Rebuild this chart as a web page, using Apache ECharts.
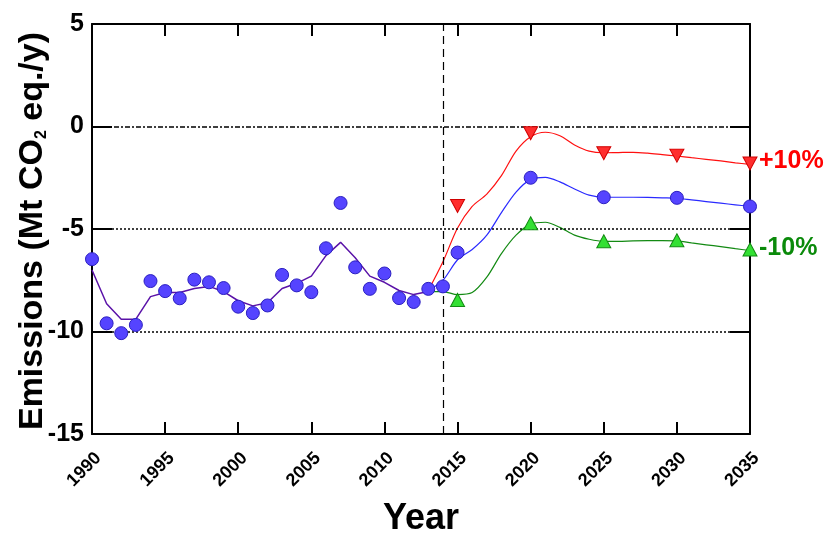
<!DOCTYPE html>
<html>
<head>
<meta charset="utf-8">
<script src="https://cdn.jsdelivr.net/npm/echarts@6/dist/echarts.min.js"></script>
<style>
html,body{margin:0;padding:0;background:#fff;}
#chart{width:825px;height:533px;}
</style>
</head>
<body>
<div id="chart"></div>
<script>
// ---- data ----
var histYears = [1990,1991,1992,1993,1994,1995,1996,1997,1998,1999,2000,2001,2002,2003,2004,2005,2006,2007,2008,2009,2010,2011,2012,2013];
var histLine = [-7.0,-8.65,-9.4,-9.4,-8.3,-8.1,-8.1,-7.9,-7.8,-8.05,-8.5,-8.75,-8.6,-7.9,-7.65,-7.3,-6.3,-5.65,-6.4,-7.3,-7.6,-8.0,-8.2,-8.05];

var projYears = [2013,2014,2015,2016,2017,2018,2019,2020,2021,2022,2023,2024,2025,2026,2027,2028,2029,2030,2031,2032,2033,2034,2035];
var projHigh = [-8.0,-6.6,-4.95,-3.9,-3.3,-2.4,-1.2,-0.5,-0.28,-0.45,-0.9,-1.2,-1.28,-1.27,-1.26,-1.3,-1.37,-1.44,-1.52,-1.6,-1.68,-1.77,-1.85];
var projMid = [-8.0,-7.5,-6.5,-6.0,-5.3,-4.2,-3.2,-2.58,-2.48,-2.7,-3.05,-3.35,-3.45,-3.45,-3.45,-3.46,-3.48,-3.5,-3.58,-3.66,-3.74,-3.82,-3.9];
var projLow = [-8.05,-8.05,-8.2,-8.1,-7.35,-6.2,-5.3,-4.76,-4.67,-4.92,-5.3,-5.5,-5.6,-5.6,-5.58,-5.57,-5.57,-5.58,-5.68,-5.77,-5.86,-5.96,-6.05];

var obsYears = [1990,1991,1992,1993,1994,1995,1996,1997,1998,1999,2000,2001,2002,2003,2004,2005,2006,2007,2008,2009,2010,2011,2012,2013,2014,2015,2020,2025,2030,2035];
var obsValues = [-6.47,-9.6,-10.08,-9.68,-7.54,-8.03,-8.38,-7.47,-7.6,-7.88,-8.79,-9.1,-8.73,-7.24,-7.75,-8.08,-5.94,-3.73,-6.87,-7.92,-7.17,-8.37,-8.56,-7.92,-7.8,-6.15,-2.5,-3.45,-3.48,-3.9];

var scenYears = [2015,2020,2025,2030,2035];
var highMarks = [-3.88,-0.33,-1.3,-1.42,-1.8];
var lowMarks = [-8.46,-4.72,-5.6,-5.55,-6.0];

var xTicks = {min:1990, max:2035, step:5};
var yTicks = {min:-15, max:5, step:5};
var cutYear = 2014;

function pairs(xs, ys){ return xs.map(function(x,i){ return [x, ys[i]]; }); }

var FONT = '"Liberation Sans", Arial, Helvetica, sans-serif';

var chart = echarts.init(document.getElementById('chart'), null, {renderer:'canvas'});

var axisLineStyle = {color:'#000', width:2};
var tickStyle = {color:'#000', width:2};

var option = {
  backgroundColor:'#fff',
  animation:false,
  grid:{left:92, top:24, width:658, height:410, containLabel:false},
  xAxis:[
    {type:'value', position:'bottom', min:xTicks.min, max:xTicks.max, interval:xTicks.step,
     axisLine:{show:true, onZero:false, lineStyle:axisLineStyle},
     axisTick:{show:true, inside:true, length:12, lineStyle:tickStyle},
     axisLabel:{show:true, rotate:45, margin:15, verticalAlign:'top', fontFamily:FONT, fontWeight:'bold', fontSize:18, color:'#000',
       formatter:function(v){return String(v);}},
     splitLine:{show:false}},
    {type:'value', position:'top', min:xTicks.min, max:xTicks.max, interval:xTicks.step,
     axisLine:{show:true, onZero:false, lineStyle:axisLineStyle},
     axisTick:{show:true, inside:true, length:12, lineStyle:tickStyle},
     axisLabel:{show:false}, splitLine:{show:false}}
  ],
  yAxis:[
    {type:'value', position:'left', min:yTicks.min, max:yTicks.max, interval:yTicks.step,
     axisLine:{show:true, onZero:false, lineStyle:axisLineStyle},
     axisTick:{show:true, inside:true, length:20, lineStyle:tickStyle},
     axisLabel:{show:true, margin:8, fontFamily:FONT, fontWeight:'bold', fontSize:25, color:'#000'},
     splitLine:{show:false}},
    {type:'value', position:'right', min:yTicks.min, max:yTicks.max, interval:yTicks.step,
     axisLine:{show:true, onZero:false, lineStyle:axisLineStyle},
     axisTick:{show:true, inside:true, length:20, lineStyle:tickStyle},
     axisLabel:{show:false}, splitLine:{show:false}}
  ],
  graphic:[
    {type:'text', x:421, y:519, style:{text:'Year', font:'bold 36px ' + FONT, fill:'#000', textAlign:'center', textVerticalAlign:'middle'}},
    {type:'text', x:33, y:231, rotation:Math.PI/2,
     style:{text:'Emissions (Mt CO{sub|2} eq./y)', textAlign:'center', textVerticalAlign:'middle',
       font:'bold 34px ' + FONT, fill:'#000',
       rich:{sub:{fontSize:16, fontWeight:'bold', fontFamily:FONT, verticalAlign:'bottom', padding:[16,0,0,0], fill:'#000', color:'#000'}}}},
    {type:'text', x:759, y:161, style:{text:'+10%', font:'bold 25px ' + FONT, fill:'#ff0000', textAlign:'left', textVerticalAlign:'middle'}},
    {type:'text', x:759, y:248, style:{text:'-10%', font:'bold 25px ' + FONT, fill:'#0a8a0a', textAlign:'left', textVerticalAlign:'middle'}}
  ],
  series:[
    {type:'line', name:'guides', data:[], silent:true,
     markLine:{symbol:'none', silent:true, label:{show:false},
       data:[
         {yAxis:0, lineStyle:{color:'#000', width:1.5, type:[5,2,2,2]}},
         {yAxis:-5, lineStyle:{color:'#000', width:1.5, type:[2,2]}},
         {yAxis:-10, lineStyle:{color:'#000', width:1.5, type:[2,2]}},
         {xAxis:cutYear, lineStyle:{color:'#000', width:1.2, type:[8,5]}}
       ]}},
    {type:'line', name:'high', data:pairs(projYears, projHigh), showSymbol:false, smooth:0.3,
     lineStyle:{color:'#ff1010', width:1.2}, z:3},
    {type:'line', name:'low', data:pairs(projYears, projLow), showSymbol:false, smooth:0.3,
     lineStyle:{color:'#138a13', width:1.2}, z:3},
    {type:'line', name:'mid', data:pairs(projYears, projMid), showSymbol:false, smooth:0.3,
     lineStyle:{color:'#2a2aff', width:1.2}, z:3},
    {type:'line', name:'hist', data:pairs(histYears, histLine), showSymbol:false, smooth:false,
     lineStyle:{color:'#5a12a8', width:1.5}, z:4},
    {type:'scatter', name:'obs', data:pairs(obsYears, obsValues), symbol:'circle', symbolSize:13, clip:false,
     itemStyle:{color:'#5544ff', borderColor:'#2b1fc0', borderWidth:1, opacity:1}, z:6},
    {type:'scatter', name:'highMarks', data:pairs(scenYears, highMarks), symbol:'triangle', symbolRotate:180, symbolSize:[14,13], clip:false,
     itemStyle:{color:'#ff2e2e', borderColor:'#d00000', borderWidth:1, opacity:1}, z:6},
    {type:'scatter', name:'lowMarks', data:pairs(scenYears, lowMarks), symbol:'triangle', symbolSize:[14,13], clip:false,
     itemStyle:{color:'#33e033', borderColor:'#138a13', borderWidth:1, opacity:1}, z:6}
  ]
};
chart.setOption(option);
</script>
</body>
</html>
